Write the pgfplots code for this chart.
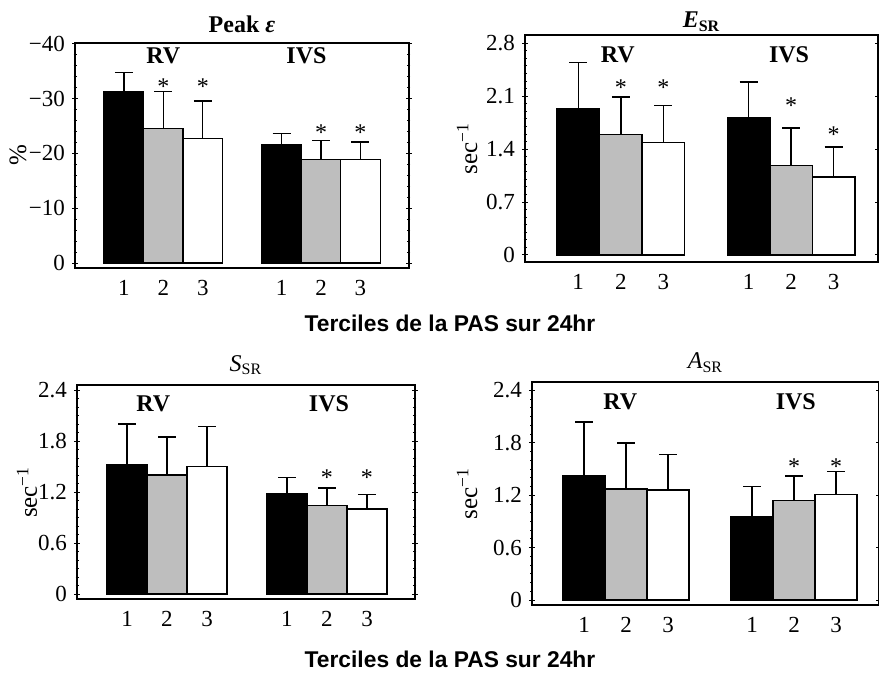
\documentclass[border=0pt]{standalone}
\usepackage{fontspec}
\setmainfont{Liberation Serif}
\newfontfamily\arialfont{Liberation Sans}
\usepackage{pgfplots}
\pgfplotsset{compat=1.18}
\definecolor{midgray}{RGB}{190,190,190}

\pgfplotsset{
  panel/.style={
    scale only axis, anchor=center, clip=false,
    axis line style={line width=0.9pt},
    xtick={1,2,3,5,6,7}, xticklabels={1,2,3,1,2,3},
    major x tick style={draw=none},
    xtick pos=bottom, ytick pos=both,
    tick align=center,
    tick style={black, line width=0.5pt},
    major tick length=3pt, minor tick length=1.5pt,
    tick label style={font=\fontsize{11.5}{13}\selectfont},
    xticklabel style={yshift=-1pt},
    /pgf/number format/assume math mode=true,
    ylabel style={font=\fontsize{12.5}{14}\selectfont, anchor=center},
    title style={font=\fontsize{12}{14}\selectfont, at={(0.5,1)}, anchor=center},
  },
  bars/.style 2 args={
    ybar, bar width=1, bar shift=0pt, fill=#1, draw=black, line width=0.7pt,
    error bars/y dir=#2, error bars/y explicit,
    error bars/error bar style={line width=0.7pt, black},
    error bars/error mark options={rotate=90, black, mark size=4.5pt, line width=0.7pt},
  },
  stars/.style={
    draw=none, mark=none, nodes near coords={*},
    every node near coord/.append style={anchor=base, yshift=-6pt, text=black,
      font=\fontsize{12}{12}\selectfont},
  },
}
\newcommand{\grp}[1]{\textbf{\fontsize{12}{14}\selectfont #1}}
\newcommand{\xlab}{\arialfont\bfseries\fontsize{11.4}{13}\selectfont}

\begin{document}
\begin{tikzpicture}
\useasboundingbox (0,0) rectangle (439.5pt,-336.5pt);

% Peak strain
\begin{axis}[panel, at={(121pt,-77.75pt)}, width=167pt, height=112.5pt,
  y dir=reverse, xmin=-0.24, xmax=8.23, ymin=-40.15, ymax=0.9,
  ytick={-40,-30,-20,-10,0}, yticklabels={−40,−30,−20,−10,0},
  minor y tick num=4,
  ylabel={\%}, ylabel style={at={(axis description cs:-0.171,0.5)}},
  title={\textbf{Peak \textit{ε}}}, title style={yshift=3.5pt}]
\addplot[bars={black}{minus}] coordinates {(1,-31.3) +- (0,3.5) (5,-21.6) +- (0,2.0)};
\addplot[bars={midgray}{minus}] coordinates {(2,-24.6) +- (0,6.7) (6,-18.9) +- (0,3.5)};
\addplot[bars={white}{minus}] coordinates {(3,-22.7) +- (0,6.9) (7,-18.9) +- (0,3.2)};
\addplot[stars] coordinates {(2,-33.0) (3,-33.0) (6,-24.5) (7,-24.5)};
\node at (axis cs:2,-37.8) {\grp{RV}};
\node at (axis cs:5.63,-37.8) {\grp{IVS}};
\end{axis}

% E_SR
\begin{axis}[panel, at={(350.75pt,-74.25pt)}, width=176.5pt, height=113.5pt,
  xmin=-0.25, xmax=8.04, ymin=-0.093, ymax=2.91,
  ytick={0,0.7,1.4,2.1,2.8}, minor y tick num=6,
  ylabel={sec\textsuperscript{−1}}, ylabel style={at={(axis description cs:-0.164,0.5)}},
  title={\textbf{\textit{E}\textsubscript{SR}}}, title style={yshift=0.5pt}]
\addplot[bars={black}{plus}] coordinates {(1,1.94) +- (0,0.61) (5,1.81) +- (0,0.48)};
\addplot[bars={midgray}{plus}] coordinates {(2,1.59) +- (0,0.50) (6,1.18) +- (0,0.50)};
\addplot[bars={white}{plus}] coordinates {(3,1.49) +- (0,0.49) (7,1.03) +- (0,0.40)};
\addplot[stars] coordinates {(2,2.27) (3,2.27) (6,2.03) (7,1.64)};
\node at (axis cs:1.93,2.65) {\grp{RV}};
\node at (axis cs:5.95,2.65) {\grp{IVS}};
\end{axis}

% S_SR
\begin{axis}[panel, at={(123pt,-246.1pt)}, width=169pt, height=107.15pt,
  xmin=-0.25, xmax=8.2, ymin=-0.062, ymax=2.46,
  ytick={0,0.6,1.2,1.8,2.4}, minor y tick num=5,
  ylabel={sec\textsuperscript{−1}}, ylabel style={at={(axis description cs:-0.148,0.5)}},
  title={\textit{S}\textsubscript{SR}}, title style={yshift=4pt}]
\addplot[bars={black}{plus}] coordinates {(1,1.52) +- (0,0.48) (5,1.18) +- (0,0.19)};
\addplot[bars={midgray}{plus}] coordinates {(2,1.40) +- (0,0.45) (6,1.04) +- (0,0.21)};
\addplot[bars={white}{plus}] coordinates {(3,1.50) +- (0,0.47) (7,1.00) +- (0,0.17)};
\addplot[stars] coordinates {(6,1.42) (7,1.42)};
\node at (axis cs:1.66,2.24) {\grp{RV}};
\node at (axis cs:6.05,2.24) {\grp{IVS}};
\end{axis}

% A_SR
\begin{axis}[panel, at={(352.75pt,-246.7pt)}, width=173.5pt, height=111.65pt,
  xmin=-0.24, xmax=8.02, ymin=-0.057, ymax=2.5,
  ytick={0,0.6,1.2,1.8,2.4}, minor y tick num=5,
  ylabel={sec\textsuperscript{−1}}, ylabel style={at={(axis description cs:-0.187,0.5)}},
  title={\textit{A}\textsubscript{SR}}, title style={yshift=3.5pt}]
\addplot[bars={black}{plus}] coordinates {(1,1.42) +- (0,0.62) (5,0.955) +- (0,0.345)};
\addplot[bars={midgray}{plus}] coordinates {(2,1.27) +- (0,0.53) (6,1.14) +- (0,0.28)};
\addplot[bars={white}{plus}] coordinates {(3,1.26) +- (0,0.41) (7,1.21) +- (0,0.26)};
\addplot[stars] coordinates {(6,1.57) (7,1.57)};
\node at (axis cs:1.86,2.27) {\grp{RV}};
\node at (axis cs:6.04,2.27) {\grp{IVS}};
\end{axis}

\node[font=\xlab] at (225pt,-161.5pt) {Terciles de la PAS sur 24hr};
\node[font=\xlab] at (225pt,-329.5pt) {Terciles de la PAS sur 24hr};
\end{tikzpicture}
\end{document}
